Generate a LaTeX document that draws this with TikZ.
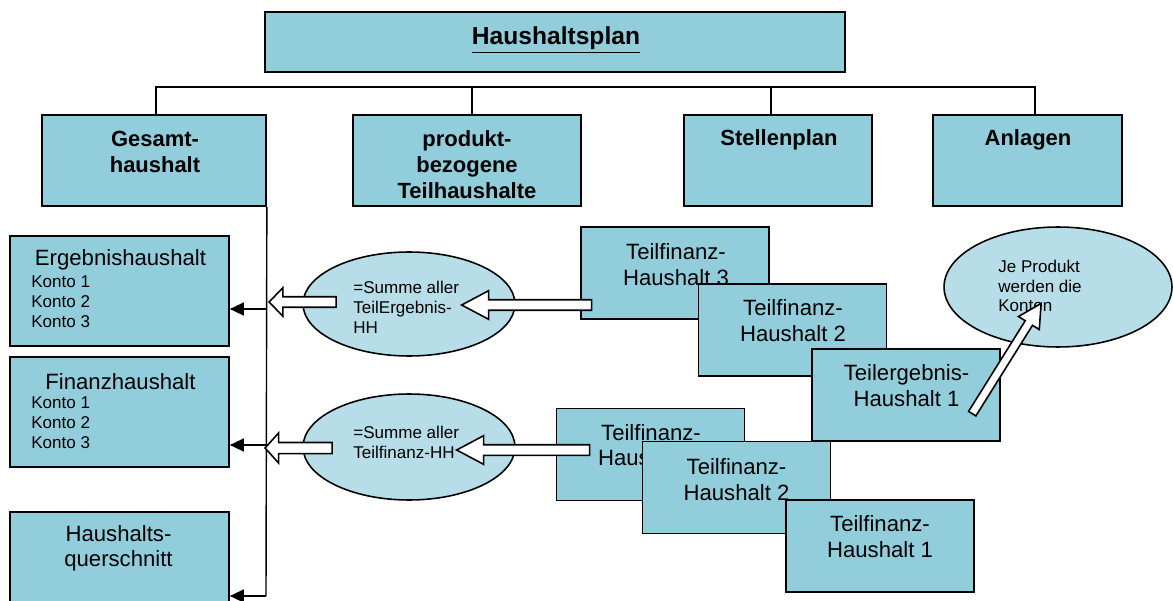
\documentclass[tikz,border=0pt]{standalone}
\usepackage{fontspec}
\setmainfont{Liberation Sans}
\usetikzlibrary{shapes.geometric,shapes.arrows,arrows.meta}

\definecolor{boxblue}{HTML}{92CDDC}
\definecolor{ovalblue}{HTML}{B7DEE8}

\begin{document}
\begin{tikzpicture}[x=0.02cm,y=-0.02cm,
    box/.style={draw=black,line width=1pt,fill=boxblue,minimum width=3.76cm,minimum height=1.84cm,inner sep=0pt},
    oval/.style={ellipse,draw=black,line width=0.9pt,fill=ovalblue,inner sep=0pt},
    hdtext/.style={font=\bfseries\fontsize{12.5pt}{14.8pt}\selectfont,align=center,inner sep=0pt},
    bodytext/.style={font=\fontsize{12.6pt}{14.5pt}\selectfont,align=center,inner sep=0pt},
    notetext/.style={font=\fontsize{9.7pt}{11.3pt}\selectfont,align=left,inner sep=0pt,anchor=west},
    fat/.style={single arrow,draw=black,line width=0.9pt,fill=white,inner sep=0.09cm,single arrow head extend=0.18cm,anchor=tip},
    conn/.style={line width=0.8pt},
    feed/.style={line width=0.8pt,-{Triangle[length=0.28cm,width=0.26cm]}}]
\useasboundingbox (0,0) rectangle (1173,601);

% top level
\node[box,minimum width=11.6cm,minimum height=1.2cm] (plan) at (555,42) {};
\node[hdtext,font=\bfseries\fontsize{14pt}{16pt}\selectfont] (plant) at (556,40) {\underline{Haushaltsplan}};

\node[box,minimum width=4.48cm,minimum height=1.82cm] (gesamt) at (154,160.5) {};
\node[hdtext] (gesamtt) at (155,152) {Gesamt-\\haushalt};
\node[box,minimum width=4.56cm,minimum height=1.82cm] (produkt) at (467,160.5) {};
\node[hdtext] (produktt) at (467,165) {produkt-\\bezogene\\Teilhaushalte};
\node[box,minimum height=1.82cm] (stellen) at (778,160.5) {};
\node[hdtext] (stellent) at (779,140) {Stellenplan};
\node[box,minimum width=3.78cm,minimum height=1.82cm] (anlagen) at (1027.5,160.5) {};
\node[hdtext] (anlagent) at (1028,140) {Anlagen};

\coordinate (b1) at (156,87);
\coordinate (b2) at (472,87);
\coordinate (b3) at (771,87);
\coordinate (b4) at (1035,87);
\draw[conn] (b1 |- gesamt.north) -- (b1) -- (b4) -- (b4 |- anlagen.north);
\draw[conn] (b2) -- (b2 |- produkt.north);
\draw[conn] (b3) -- (b3 |- stellen.north);

% Gesamthaushalt
\node[box,minimum width=4.38cm,minimum height=2.2cm] (erg) at (119.5,291) {};
\node[bodytext] (ergt) at (120.5,260) {Ergebnishaushalt};
\node[notetext] (ergk) at (31,302) {Konto 1\\Konto 2\\Konto 3};
\node[box,minimum width=4.38cm,minimum height=2.2cm] (fin) at (119.5,412) {};
\node[bodytext] (fint) at (120.5,382) {Finanzhaushalt};
\node[notetext] (fink) at (31,423) {Konto 1\\Konto 2\\Konto 3};
\node[box,minimum width=4.38cm,minimum height=2.2cm] (quer) at (119.5,567) {};
\node[bodytext] (quert) at (118.5,548.5) {Haushalts-\\querschnitt};

\coordinate (s1) at (266,309);
\coordinate (s2) at (266,445);
\coordinate (s3) at (266,596);
\draw[conn] (gesamt.south east) -- (s3);
\draw[feed] (s1) -- (s1 -| erg.east);
\draw[feed] (s2) -- (s2 -| fin.east);
\draw[feed] (s3) -- (s3 -| quer.east);

% Summen
\node[oval,minimum width=4.24cm,minimum height=2.08cm] (sum1) at (409,304) {};
\node[notetext] (sum1t) at (353,307) {=Summe aller\\TeilErgebnis-\\HH};
\node[oval,minimum width=4.24cm,minimum height=2.12cm] (sum2) at (409,447) {};
\node[notetext] (sum2t) at (353,442) {=Summe aller\\Teilfinanz-HH};

% Teilhaushalte
\node[box] (tf3) at (675,273) {};
\node[bodytext] (tf3t) at (676,264.5) {Teilfinanz-\\Haushalt 3};
\node[box] (tf2) at (792.5,330) {};
\node[bodytext] (tf2t) at (793,320.5) {Teilfinanz-\\Haushalt 2};
\node[box] (te1) at (906,395) {};
\node[bodytext] (te1t) at (906.5,385.5) {Teilergebnis-\\Haushalt 1};

\node[oval,minimum width=4.56cm,minimum height=2.4cm] (je) at (1058,287) {};
\node[notetext,font=\fontsize{9.7pt}{10.9pt}\selectfont] (jet) at (998,286) {Je Produkt\\werden die\\Konten};

\node[box] (tfb3) at (650.5,454.5) {};
\node[bodytext] (tfb3t) at (651,445) {Teilfinanz-\\Haushalt 3};
\node[box] (tfb2) at (736.5,487.5) {};
\node[bodytext] (tfb2t) at (736.5,479.5) {Teilfinanz-\\Haushalt 2};
\node[box] (tfb1) at (880,546) {};
\node[bodytext] (tfb1t) at (880,536.5) {Teilfinanz-\\Haushalt 1};

% Blockpfeile
\node[fat,shape border rotate=180,minimum height=2.6cm,single arrow tip angle=56] (pa1) at (460,305) {};
\node[fat,shape border rotate=180,minimum height=1.34cm,single arrow tip angle=92] (pa2) at (268,302) {};
\node[fat,shape border rotate=180,minimum height=2.66cm,single arrow tip angle=56] (pa3) at (455,450) {};
\node[fat,shape border rotate=180,minimum height=1.34cm,inner sep=0.095cm,single arrow head extend=0.19cm,single arrow tip angle=96] (pa4) at (264,448) {};
\node[fat,rotate=58,minimum height=2.6cm,inner sep=0.07cm,single arrow head extend=0.16cm,single arrow tip angle=56] (pa5) at (1042,302) {};
\end{tikzpicture}
\end{document}
